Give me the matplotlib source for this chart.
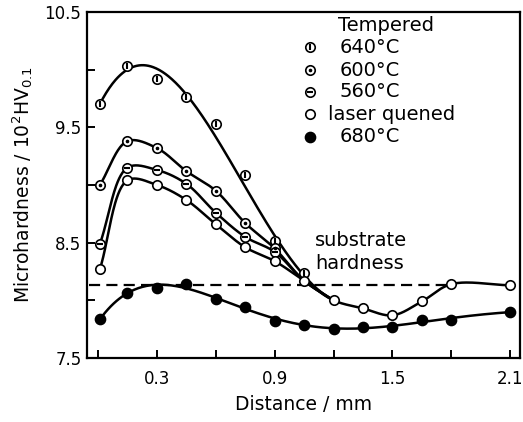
import numpy as np
import matplotlib
matplotlib.use('Agg')
import matplotlib.pyplot as plt

plt.rcParams['font.family'] = ['DejaVu Sans']
plt.rcParams['mathtext.default'] = 'regular'

# distance from surface, mm
x_all = [0.01, 0.15, 0.3, 0.45, 0.6, 0.75, 0.9, 1.05, 1.2, 1.35, 1.5, 1.65, 1.8, 2.1]

t640 = [9.70, 10.03, 9.92, 9.76, 9.53, 9.09, 8.51, 8.24]
t600 = [9.00, 9.38, 9.32, 9.12, 8.95, 8.67, 8.45]
t560 = [8.49, 9.15, 9.13, 9.01, 8.76, 8.55, 8.42]
laser = [8.27, 9.04, 9.00, 8.87, 8.66, 8.46, 8.34, 8.17, 8.00, 7.93, 7.87, 7.99, 8.14, 8.13]
t680 = [7.84, 8.06, 8.11, 8.14, 8.01, 7.94, 7.82, 7.79, 7.75, 7.77, 7.77, 7.83, 7.83, 7.90]

substrate = 8.13

# rough pixel scale of the plot, used so the curve is smoothed in screen space
SX, SY = 196.0, 118.0


def curve(x, y, n=40):
    # centripetal Catmull-Rom through the points
    P = np.column_stack([np.asarray(x, float) * SX, np.asarray(y, float) * SY])
    P = np.vstack([2 * P[0] - P[1], P, 2 * P[-1] - P[-2]])
    out = []
    for i in range(1, len(P) - 2):
        p0, p1, p2, p3 = P[i - 1:i + 3]
        t0 = 0.0
        t1 = t0 + np.linalg.norm(p1 - p0) ** 0.5
        t2 = t1 + np.linalg.norm(p2 - p1) ** 0.5
        t3 = t2 + np.linalg.norm(p3 - p2) ** 0.5
        t = np.linspace(t1, t2, n)[:, None]
        a1 = (t1 - t) / (t1 - t0) * p0 + (t - t0) / (t1 - t0) * p1
        a2 = (t2 - t) / (t2 - t1) * p1 + (t - t1) / (t2 - t1) * p2
        a3 = (t3 - t) / (t3 - t2) * p2 + (t - t2) / (t3 - t2) * p3
        b1 = (t2 - t) / (t2 - t0) * a1 + (t - t0) / (t2 - t0) * a2
        b2 = (t3 - t) / (t3 - t1) * a2 + (t - t1) / (t3 - t1) * a3
        out.append((t2 - t) / (t2 - t1) * b1 + (t - t1) / (t2 - t1) * b2)
    c = np.vstack(out)
    return c[:, 0] / SX, c[:, 1] / SY


def fit(x, y, deg, w=None):
    # least squares curve, the way the hand-drawn ones miss some points
    p = np.polyfit(x, y, deg, w=w)
    xs = np.linspace(x[0], x[-1], 300)
    return xs, np.polyval(p, xs)


def marker(ax, x, y, kind, **kw):
    ms = 6.8
    if kind == 'filled':
        ax.plot(x, y, 'o', ms=ms + 0.6, mfc='black', mec='black', zorder=5, **kw)
        return
    ax.plot(x, y, 'o', ms=ms, mfc='white', mec='black', mew=1.2, zorder=5, **kw)
    if kind == 'vbar':
        ax.plot(x, y, '|', ms=ms - 2, mec='black', mew=1.5, zorder=6, **kw)
    elif kind == 'dot':
        ax.plot(x, y, '.', ms=3.2, mfc='black', mec='black', zorder=6, **kw)
    elif kind == 'hbar':
        ax.plot(x, y, '_', ms=ms - 2, mec='black', mew=1.5, zorder=6, **kw)


fig = plt.figure(figsize=(5.23, 4.22), dpi=100)
ax = fig.add_axes([0.1663, 0.1517, 0.828, 0.82])

lw = 1.8
xs, ys = curve(x_all, laser)
ax.plot(xs, ys, color='black', lw=lw)
xs, ys = fit(x_all, t680, 5)
ax.plot(xs, ys, color='black', lw=lw)

# tempered curves run into the laser-quenched curve
n640 = len(t640)
w640 = [4, 2, 1, 2, 1, 1, 2, 2, 4]
xs, ys = fit(x_all[:n640 + 1], t640 + [laser[n640]], 4, w=w640)
ax.plot(xs, ys, color='black', lw=lw)
for vals in (t600, t560):
    n = len(vals)
    xs, ys = curve(x_all[:n + 2], vals + laser[n:n + 2])
    ax.plot(xs, ys, color='black', lw=lw)

ax.plot([-0.045, 1.8], [substrate, substrate], color='black', lw=1.6, ls=(0, (5, 2.8)))

marker(ax, x_all[:len(t640)], t640, 'vbar')
marker(ax, x_all[:len(t600)], t600, 'dot')
marker(ax, x_all[:len(t560)], t560, 'hbar')
marker(ax, x_all, laser, 'open')
marker(ax, x_all, t680, 'filled')

# legend drawn by hand
fs = 14
ax.text(0.58, 0.962, 'Tempered', transform=ax.transAxes, fontsize=fs, va='center')
leg = [('vbar', '640°C', 0.583, 0.898), ('dot', '600°C', 0.583, 0.832),
       ('hbar', '560°C', 0.583, 0.770), ('open', 'laser quened', 0.557, 0.704),
       ('filled', '680°C', 0.583, 0.640)]
for kind, lab, tx, ty in leg:
    marker(ax, [0.514], [ty], kind, transform=ax.transAxes, clip_on=False)
    ax.text(tx, ty, lab, transform=ax.transAxes, fontsize=fs, va='center')

ax.text(1.105, 8.42, 'substrate\nhardness', fontsize=fs, va='center', linespacing=1.25)

ax.set_xlim(-0.056, 2.15)
ax.set_ylim(7.5, 10.5)
ax.set_xticks(np.arange(0, 2.11, 0.3))
ax.set_xticklabels(['', '0.3', '', '0.9', '', '1.5', '', '2.1'])
ax.set_yticks(np.arange(7.5, 10.51, 0.5))
ax.set_yticklabels(['7.5', '', '8.5', '', '9.5', '', '10.5'])
ax.tick_params(direction='in', length=6, width=1.4, labelsize=12)
ax.tick_params(axis='x', pad=9)
ax.tick_params(axis='y', pad=4)
for s in ax.spines.values():
    s.set_linewidth(1.6)

ax.set_xlabel('Distance / mm', fontsize=13.5, labelpad=5)
ax.set_ylabel('Microhardness / 10$^2$HV$_{0.1}$', fontsize=13.5, labelpad=7)

fig.savefig('out.png', dpi=100)
